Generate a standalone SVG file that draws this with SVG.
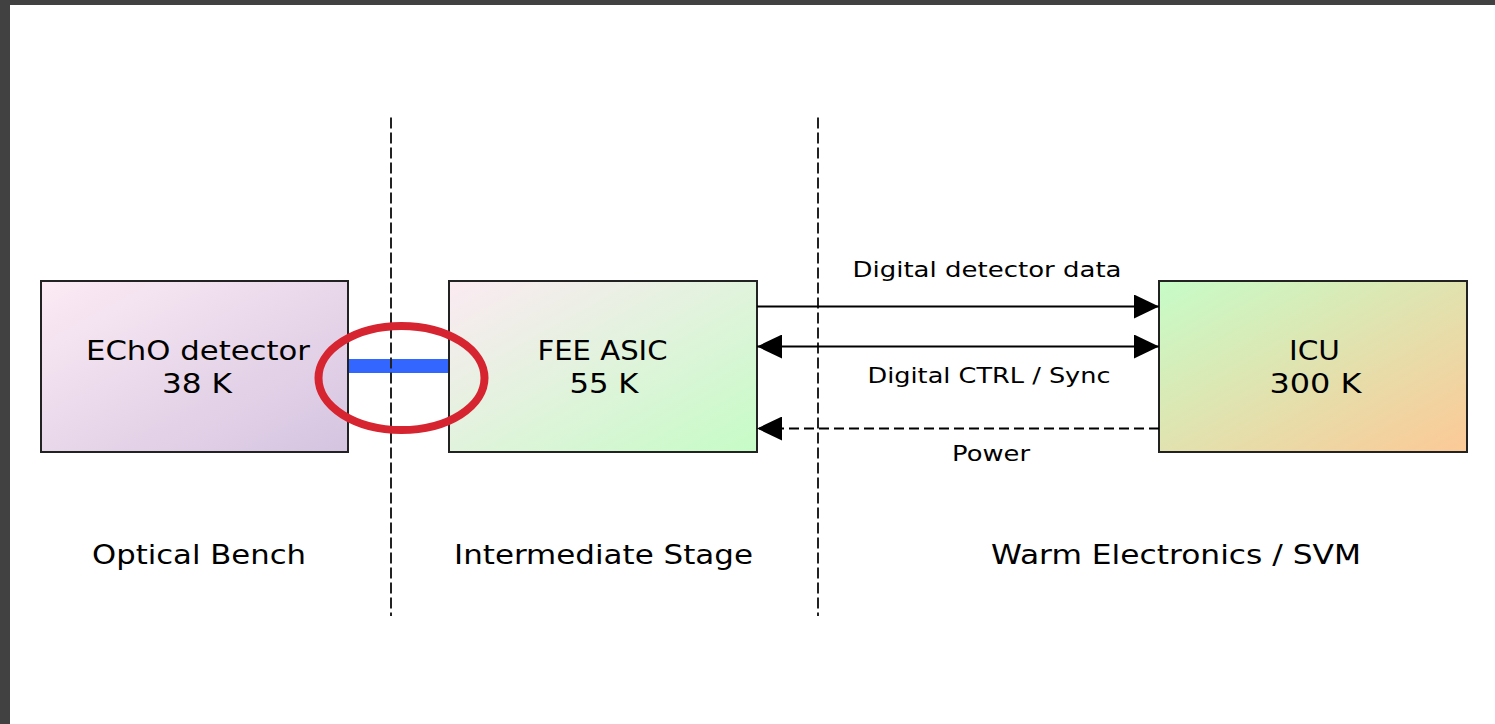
<svg xmlns="http://www.w3.org/2000/svg" width="1495" height="724" viewBox="0 0 1495 724">
  <defs>
    <linearGradient id="gradEcho" x1="0" y1="0" x2="1" y2="1">
      <stop offset="0" stop-color="#fcebf4"/>
      <stop offset="1" stop-color="#d5c4e0"/>
    </linearGradient>
    <linearGradient id="gradFee" x1="0" y1="0" x2="1" y2="1">
      <stop offset="0" stop-color="#fbeaf2"/>
      <stop offset="1" stop-color="#c6fcc6"/>
    </linearGradient>
    <linearGradient id="gradIcu" x1="0" y1="0" x2="1" y2="1">
      <stop offset="0" stop-color="#c6fcc8"/>
      <stop offset="1" stop-color="#fcc996"/>
    </linearGradient>
    <marker id="arrow" viewBox="0 0 25 24" refX="25" refY="12" markerWidth="25" markerHeight="24" markerUnits="userSpaceOnUse" orient="auto-start-reverse">
      <path d="M0,0 L25,12 L0,24 z" fill="#000"/>
    </marker>
    <style>
      .box { stroke: #222; stroke-width: 2; }
      .label { font-family: "DejaVu Sans", "Liberation Sans", sans-serif; font-size: 26px; fill: #000; text-anchor: middle; }
      .small { font-family: "DejaVu Sans", "Liberation Sans", sans-serif; font-size: 22px; fill: #000; text-anchor: middle; }
      .sep { stroke: #222; stroke-width: 2; stroke-dasharray: 11 4; fill: none; }
      .wire { stroke: #000; stroke-width: 2; fill: none; }
      .dashed { stroke-dasharray: 10 5; }
    </style>
  </defs>

  <!-- page background and window frame -->
  <rect x="0" y="0" width="1495" height="724" fill="#ffffff"/>
  <rect x="0" y="0" width="1495" height="5" fill="#414141"/>
  <rect x="0" y="0" width="10" height="724" fill="#414141"/>

  <!-- blue cryo harness between detector and FEE -->
  <rect id="harness" x="348" y="359" width="101" height="14" fill="#3366ff"/>

  <g id="echo-detector">
    <rect class="box" x="41" y="281" width="307" height="171" fill="url(#gradEcho)"/>
    <text class="label" x="198" y="359.5" textLength="224" lengthAdjust="spacingAndGlyphs">EChO detector</text>
    <text class="label" x="197" y="392.5" textLength="70" lengthAdjust="spacingAndGlyphs">38 K</text>
  </g>

  <g id="fee-asic">
    <rect class="box" x="449" y="281" width="308" height="171" fill="url(#gradFee)"/>
    <text class="label" x="602.5" y="359.5" textLength="130" lengthAdjust="spacingAndGlyphs">FEE ASIC</text>
    <text class="label" x="604" y="392.5" textLength="69" lengthAdjust="spacingAndGlyphs">55 K</text>
  </g>

  <g id="icu">
    <rect class="box" x="1159" y="281" width="308" height="171" fill="url(#gradIcu)"/>
    <text class="label" x="1314.5" y="359.5" textLength="51" lengthAdjust="spacingAndGlyphs">ICU</text>
    <text class="label" x="1315.5" y="393" textLength="92" lengthAdjust="spacingAndGlyphs">300 K</text>
  </g>

  <!-- stage boundaries -->
  <g id="boundaries">
    <line class="sep" x1="391" y1="117.5" x2="391" y2="616"/>
    <line class="sep" x1="818" y1="117.5" x2="818" y2="616"/>
  </g>

  <g id="connectors">
    <line class="wire" x1="757" y1="306.5" x2="1159" y2="306.5" marker-end="url(#arrow)"/>
    <line class="wire" x1="757" y1="346.5" x2="1159" y2="346.5" marker-start="url(#arrow)" marker-end="url(#arrow)"/>
    <line class="wire dashed" x1="1159" y1="428.5" x2="757" y2="428.5" marker-end="url(#arrow)"/>
    <text class="small" x="987" y="276.5" textLength="269" lengthAdjust="spacingAndGlyphs">Digital detector data</text>
    <text class="small" x="989" y="383" textLength="243" lengthAdjust="spacingAndGlyphs">Digital CTRL / Sync</text>
    <text class="small" x="991" y="461" textLength="78" lengthAdjust="spacingAndGlyphs">Power</text>
  </g>

  <g id="stage-labels">
    <text class="label" x="199" y="564" textLength="214" lengthAdjust="spacingAndGlyphs">Optical Bench</text>
    <text class="label" x="603.5" y="564" textLength="299" lengthAdjust="spacingAndGlyphs">Intermediate Stage</text>
    <text class="label" x="1176" y="564" textLength="370" lengthAdjust="spacingAndGlyphs">Warm Electronics / SVM</text>
  </g>

  <!-- highlight ring round the harness crossing -->
  <ellipse id="highlight" cx="401.5" cy="378" rx="83" ry="52" fill="none" stroke="#d62430" stroke-width="8"/>
</svg>
